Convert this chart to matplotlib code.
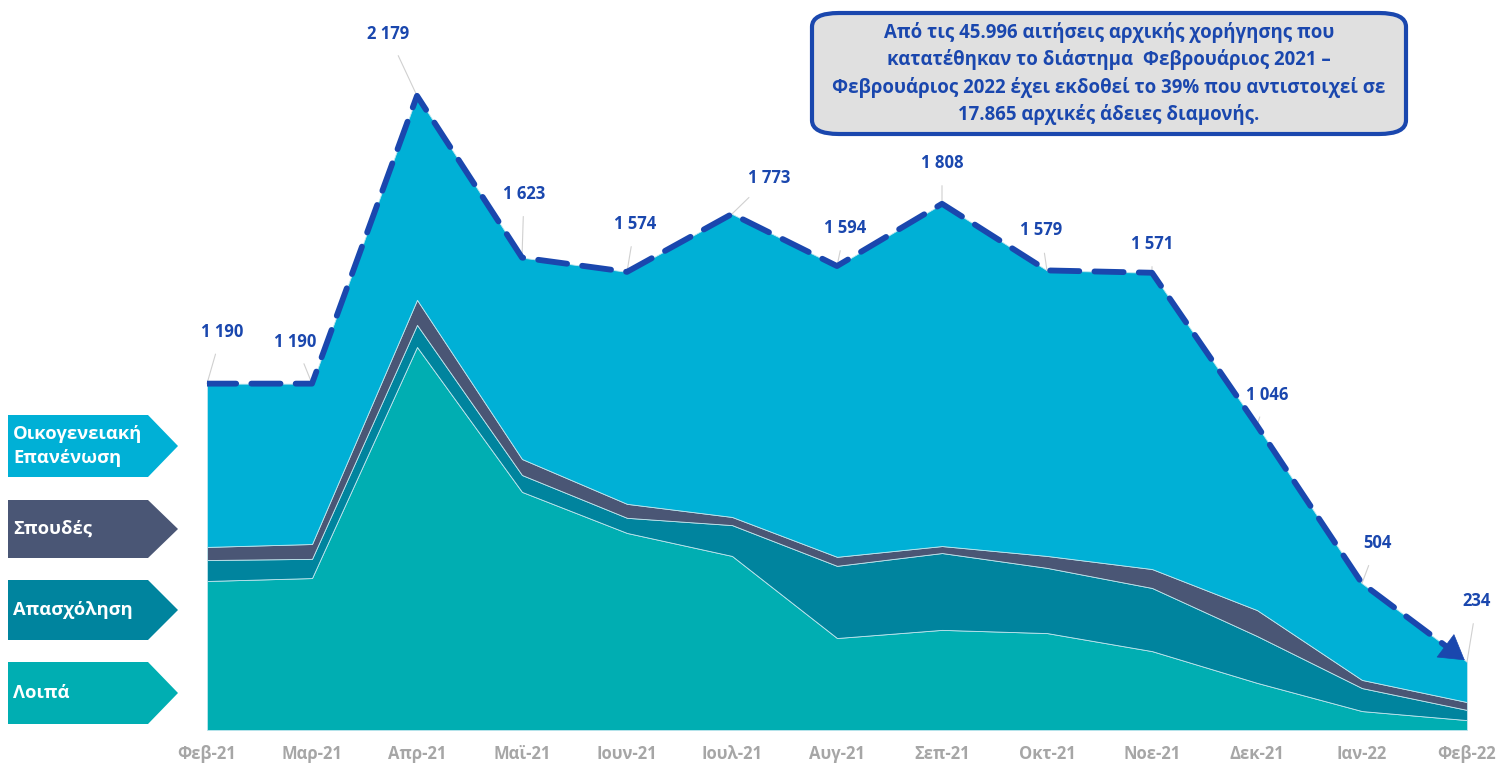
"""Stacked area of initial residence permits issued per month, Feb 2021 - Feb 2022."""

import matplotlib

matplotlib.use("Agg")

import matplotlib.pyplot as plt
from matplotlib.patches import FancyBboxPatch, Polygon
import numpy as np

plt.rcParams["font.family"] = ["Open Sans", "DejaVu Sans"]

months = ["Φεβ-21", "Μαρ-21", "Απρ-21", "Μαϊ-21", "Ιουν-21", "Ιουλ-21", "Αυγ-21",
          "Σεπ-21", "Οκτ-21", "Νοε-21", "Δεκ-21", "Ιαν-22", "Φεβ-22"]
totals = [1190, 1190, 2179, 1623, 1574, 1773, 1594, 1808, 1579, 1571, 1046, 504, 234]
total_labels = ["1 190", "1 190", "2 179", "1 623", "1 574", "1 773", "1 594",
                "1 808", "1 579", "1 571", "1 046", "504", "234"]

# layers from the bottom up
loipa = [512, 522, 1316, 818, 677, 598, 316, 344, 333, 271, 162, 65, 34]
apasxolisi = [72, 66, 76, 58, 52, 106, 248, 264, 224, 217, 161, 79, 35]
spoudes = [45, 51, 86, 55, 48, 28, 31, 24, 41, 65, 89, 28, 27]
oikog = [t - a - b - c for t, a, b, c in zip(totals, loipa, apasxolisi, spoudes)]

series_names = ["Λοιπά", "Απασχόληση", "Σπουδές", "Οικογενειακή\nΕπανένωση"]
colors = ["#00AEB2", "#00849E", "#4A5675", "#00B0D6"]
line_blue = "#1A47AE"

# label centre offsets in pixels (dx, dy) relative to the point
label_offsets = [(15, 52), (-17, 42), (-29, 62), (2, 64), (8, 48), (37, 36), (8, 38),
                 (0, 41), (-6, 40), (0, 29), (10, 31), (15, 40), (10, 61)]

W, H = 1500, 764
fig = plt.figure(figsize=(W / 100, H / 100), dpi=100)
ax = fig.add_axes([207 / W, (H - 730) / H, (1467 - 207) / W, 700 / H])

x = np.arange(len(months))
ax.stackplot(x, loipa, apasxolisi, spoudes, oikog, colors=colors,
             edgecolor="#bfe6ee", linewidth=0.6)
# dashed total line, stopped short of the last point so the arrow head sits there
ax.plot(x[:-1].tolist() + [x[-1] - 0.1],
        totals[:-1] + [totals[-1] + 0.1 * (totals[-2] - totals[-1])],
        color=line_blue, linewidth=4.2, dashes=(5, 2.6),
        dash_capstyle="round", zorder=5)
ax.annotate("", xy=(x[-1], totals[-1]),
            xytext=(x[-1] - 0.25, totals[-1] + 0.25 * (totals[-2] - totals[-1])),
            arrowprops=dict(arrowstyle="-|>,head_length=0.6,head_width=0.36",
                            color=line_blue, lw=0.5, mutation_scale=28), zorder=6)

ax.set_xlim(0, 12)
ax.set_ylim(0, 2405)
ax.axis("off")

for i, (lab, (dx, dy)) in enumerate(zip(total_labels, label_offsets)):
    ax.annotate(lab, xy=(x[i], totals[i]), xytext=(dx * 0.72, dy * 0.72),
                textcoords="offset points", ha="center", va="center",
                fontsize=12, fontweight="bold", color=line_blue,
                arrowprops=dict(arrowstyle="-", color="#d0d0d0", lw=0.8,
                                shrinkA=8, shrinkB=0))

for i, m in enumerate(months):
    ax.text(x[i], -24 / 0.291, m, ha="center", va="center", fontsize=12,
            fontweight="bold", color="#A6A6A6")

# left-hand pentagon labels
boxes = [(415, 477), (500, 558), (580, 640), (662, 724)]
for (top, bot), name, col in zip(boxes, series_names[::-1], colors[::-1]):
    x0, x1, xt = 8, 148, 178
    pts = [(x0, top), (x1, top), (xt, (top + bot) / 2), (x1, bot), (x0, bot)]
    poly = Polygon([(px / W, 1 - py / H) for px, py in pts], closed=True,
                   transform=fig.transFigure, facecolor=col, edgecolor="none")
    fig.patches.append(poly)
    fig.text(13 / W, 1 - (top + bot) / 2 / H, name, ha="left", va="center",
             fontsize=13.2, fontweight="bold", color="white", linespacing=1.45)

# annotation box
bx0, by0, bx1, by1 = 812, 13, 1406, 134
box = FancyBboxPatch((bx0 / W, 1 - by1 / H), (bx1 - bx0) / W, (by1 - by0) / H,
                     boxstyle="round,pad=0,rounding_size=0.018",
                     transform=fig.transFigure, facecolor="#E0E0E0",
                     edgecolor=line_blue, linewidth=3)
fig.patches.append(box)
fig.text((bx0 + bx1) / 2 / W, 1 - (by0 + by1) / 2 / H,
         "Από τις 45.996 αιτήσεις αρχικής χορήγησης που\n"
         "κατατέθηκαν το διάστημα  Φεβρουάριος 2021 –\n"
         "Φεβρουάριος 2022 έχει εκδοθεί το 39% που αντιστοιχεί σε\n"
         "17.865 αρχικές άδειες διαμονής.",
         ha="center", va="center", fontsize=13.4, fontweight="bold",
         color=line_blue, linespacing=1.4)

fig.savefig("out.png", dpi=100)
